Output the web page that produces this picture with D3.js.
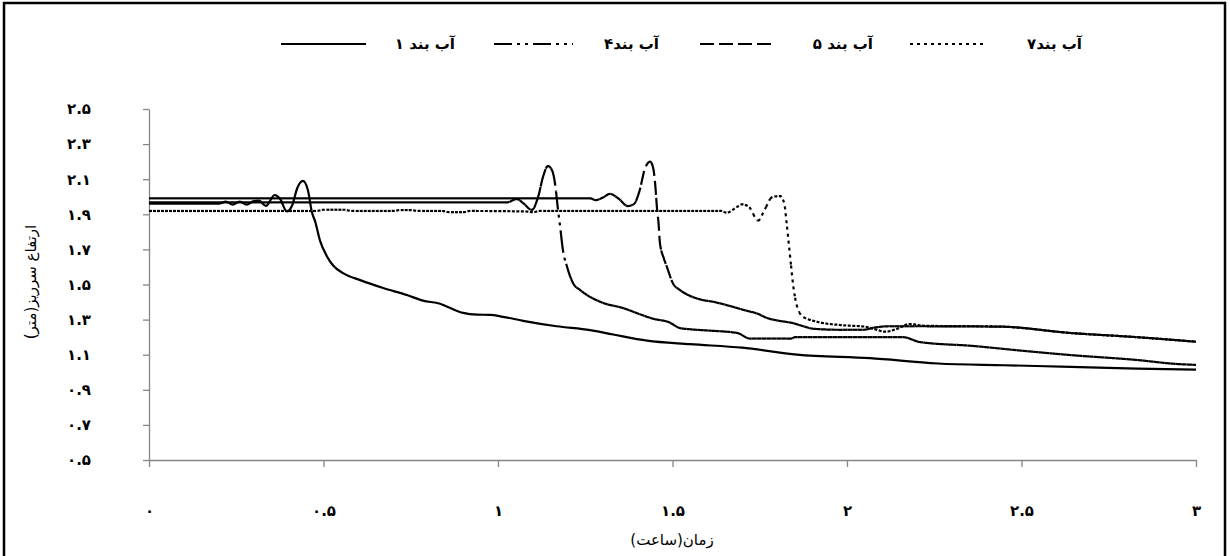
<!DOCTYPE html>
<html><head><meta charset="utf-8">
<script src="https://cdn.jsdelivr.net/npm/d3@7/dist/d3.min.js"></script>
<style>
body{margin:0;background:#fff}
svg{display:block}
text{font-family:"DejaVu Sans",sans-serif;fill:#000}
</style>
</head><body>
<svg id="c" width="1230" height="556"></svg>
<script>
// ---------- data ----------
const seriesNames = ["آب بند ۱", "آب بند۴", "آب بند ۵", "آب بند۷"];
const xTicks = [0, 0.5, 1, 1.5, 2, 2.5, 3];
const xTickLabels = ["۰", "۰.۵", "۱", "۱.۵", "۲", "۲.۵", "۳"];
const yTicks = [0.5, 0.7, 0.9, 1.1, 1.3, 1.5, 1.7, 1.9, 2.1, 2.3, 2.5];
const yTickLabels = ["۰.۵", "۰.۷", "۰.۹", "۱.۱", "۱.۳", "۱.۵", "۱.۷", "۱.۹", "۲.۱", "۲.۳", "۲.۵"];
const xTitle = "زمان(ساعت)";
const yTitle = "ارتفاع سرریز(متر)";

const band1 = [[0,1.96],[0.2,1.96],[0.22,1.972],[0.24,1.955],[0.26,1.972],[0.28,1.955],[0.30,1.975],[0.315,1.978],[0.335,1.948],[0.36,2.01],[0.375,1.99],[0.395,1.916],[0.41,1.95],[0.425,2.05],[0.441,2.09],[0.455,2.04],[0.467,1.91],[0.476,1.86],[0.49,1.75],[0.51,1.66],[0.527,1.61],[0.556,1.565],[0.605,1.525],[0.671,1.48],[0.739,1.44],[0.785,1.408],[0.834,1.39],[0.862,1.367],[0.9,1.338],[0.94,1.328],[0.977,1.327],[1.014,1.316],[1.072,1.293],[1.168,1.262],[1.264,1.24],[1.33,1.215],[1.427,1.18],[1.55,1.16],[1.7,1.14],[1.857,1.1],[2.066,1.08],[2.26,1.05],[2.45,1.04],[2.64,1.031],[2.83,1.021],[3.0,1.015]];
const band4 = [[0,1.968],[1.026,1.968],[1.054,1.987],[1.072,1.964],[1.097,1.925],[1.115,2.0],[1.13,2.12],[1.143,2.175],[1.155,2.15],[1.163,2.08],[1.172,1.925],[1.178,1.83],[1.186,1.697],[1.198,1.6],[1.215,1.508],[1.235,1.469],[1.255,1.44],[1.283,1.41],[1.301,1.395],[1.358,1.366],[1.41,1.328],[1.444,1.305],[1.49,1.285],[1.521,1.252],[1.55,1.245],[1.6,1.238],[1.685,1.224],[1.722,1.192],[1.84,1.192],[1.851,1.2],[2.16,1.2],[2.209,1.172],[2.36,1.15],[2.5,1.123],[2.64,1.098],[2.83,1.07],[2.946,1.047],[3.0,1.042]];
const band5 = [[0,1.991],[1.264,1.991],[1.28,1.981],[1.3,1.995],[1.321,2.016],[1.345,1.99],[1.372,1.947],[1.39,1.96],[1.405,2.03],[1.421,2.16],[1.436,2.2],[1.445,2.16],[1.45,2.08],[1.456,1.925],[1.46,1.85],[1.464,1.736],[1.475,1.65],[1.484,1.6],[1.501,1.508],[1.521,1.469],[1.545,1.44],[1.579,1.415],[1.62,1.4],[1.66,1.38],[1.713,1.35],[1.742,1.335],[1.771,1.309],[1.8,1.295],[1.845,1.28],[1.875,1.262],[1.903,1.248],[1.98,1.242],[2.046,1.242],[2.08,1.255],[2.12,1.262],[2.2,1.262],[2.438,1.26],[2.639,1.224],[2.83,1.2],[3.0,1.174]];
const band7 = [[0,1.919],[0.48,1.919],[0.5,1.926],[0.56,1.926],[0.58,1.919],[0.7,1.919],[0.72,1.924],[0.75,1.924],[0.77,1.919],[0.84,1.919],[0.86,1.912],[0.9,1.912],[0.92,1.919],[1.08,1.916],[1.1,1.912],[1.12,1.919],[1.64,1.919],[1.655,1.909],[1.68,1.935],[1.699,1.957],[1.72,1.94],[1.745,1.864],[1.765,1.93],[1.785,1.997],[1.808,2.004],[1.82,1.964],[1.828,1.83],[1.837,1.66],[1.845,1.508],[1.857,1.374],[1.874,1.317],[1.914,1.288],[1.98,1.269],[2.05,1.26],[2.08,1.245],[2.11,1.231],[2.14,1.245],[2.18,1.275],[2.22,1.265],[2.438,1.26],[2.639,1.224],[2.83,1.2],[3.0,1.174]];

// ---------- styles ----------
const seriesData = [band1, band4, band5, band7];
const dashes = [null, "18,5,3,5,3,5", "14,5", "3,4"];
const chunkStep = [0, 5, 5, 4];
const legendSampleX = [[281, 366], [494, 573], [700, 775], [910, 986]];
const legendTextX = [455, 659, 873, 1082];

const svg = d3.select("#c");
svg.append("rect").attr("x", 4).attr("y", 3).attr("width", 1221).attr("height", 570)
  .attr("fill", "none").attr("stroke", "#000").attr("stroke-width", 2.5);

const x = d3.scaleLinear().domain([0, 3]).range([149, 1196]);
const y = d3.scaleLinear().domain([0.5, 2.5]).range([460, 109]);

// axes
const gy = svg.append("g").attr("transform", "translate(149,0)")
  .call(d3.axisLeft(y).tickValues(yTicks).tickFormat((d, i) => yTickLabels[i]).tickSize(6).tickSizeOuter(0).tickPadding(52));
const gx = svg.append("g").attr("transform", "translate(0,460)")
  .call(d3.axisBottom(x).tickValues(xTicks).tickFormat((d, i) => xTickLabels[i]).tickSize(7).tickSizeOuter(0).tickPadding(38));
[gy, gx].forEach(g => {
  g.select(".domain").attr("stroke", "#868686").attr("stroke-width", 1.3);
  g.selectAll(".tick line").attr("stroke", "#868686").attr("stroke-width", 1.3);
  g.selectAll(".tick text").attr("font-size", 15).attr("font-weight", "bold")
    .attr("font-family", "DejaVu Sans").attr("fill", "#000");
});

// titles
svg.append("text").attr("x", 672).attr("y", 545).attr("text-anchor", "middle")
  .attr("font-size", 15).attr("direction", "rtl").text(xTitle);
svg.append("text").attr("transform", "translate(36,282) rotate(-90)").attr("text-anchor", "middle")
  .attr("font-size", 15).attr("direction", "rtl").text(yTitle);

// lines: the dash pattern restarts on every short piece (as in the original chart)
const lineGen = d3.line().x(d => x(d[0])).y(d => y(d[1])).curve(d3.curveMonotoneX);
const plot = svg.append("g");
function drawSeries(data, dash, step) {
  if (!dash) {
    plot.append("path").attr("d", lineGen(data)).attr("fill", "none")
      .attr("stroke", "#000").attr("stroke-width", 2.2).attr("stroke-linejoin", "round");
    return;
  }
  const tmp = plot.append("path").attr("d", lineGen(data)).attr("fill", "none").attr("stroke", "none");
  const node = tmp.node();
  const L = node.getTotalLength();
  const pts = [];
  for (let s = 0; s < L; s += 0.5) { const p = node.getPointAtLength(s); pts.push([p.x, p.y]); }
  const e = node.getPointAtLength(L); pts.push([e.x, e.y]);
  tmp.remove();
  const chunks = []; let cur = [pts[0]];
  for (let i = 1; i < pts.length; i++) {
    cur.push(pts[i]);
    if (pts[i][0] - cur[0][0] >= step) { chunks.push(cur); cur = [pts[i]]; }
  }
  if (cur.length > 1) chunks.push(cur);
  plot.append("g").selectAll("path").data(chunks).join("path")
    .attr("d", d3.line()).attr("fill", "none").attr("stroke", "#000")
    .attr("stroke-width", 2.2).attr("stroke-dasharray", dash);
}
[3, 2, 1, 0].forEach(i => drawSeries(seriesData[i], dashes[i], chunkStep[i]));

// legend
const lg = svg.append("g");
seriesNames.forEach((n, i) => {
  lg.append("line").attr("x1", legendSampleX[i][0]).attr("x2", legendSampleX[i][1])
    .attr("y1", 44).attr("y2", 44).attr("stroke", "#000").attr("stroke-width", 2.2)
    .attr("stroke-dasharray", dashes[i]);
  lg.append("text").attr("x", legendTextX[i]).attr("y", 49).attr("text-anchor", "start")
    .attr("direction", "rtl").attr("font-size", 15).attr("font-weight", "bold").text(n);
});
</script>
</body></html>
